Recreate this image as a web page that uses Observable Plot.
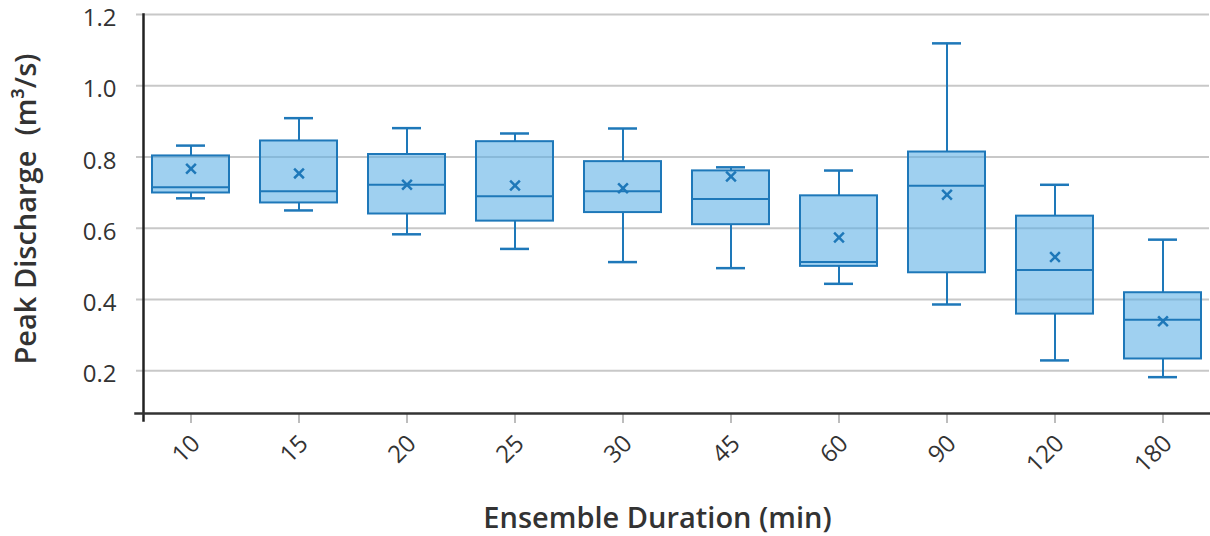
<!DOCTYPE html>
<html>
<head>
<meta charset="utf-8">
<script src="https://cdn.jsdelivr.net/npm/d3@7"></script>
<script src="https://cdn.jsdelivr.net/npm/@observablehq/plot@0.6"></script>
<style>
  html, body { margin: 0; padding: 0; background: #fff; }
  #chart svg { display: block; }
</style>
</head>
<body>
<div id="chart"></div>
<script>
const durations = ["10", "15", "20", "25", "30", "45", "60", "90", "120", "180"];
const minVals   = [0.684, 0.650, 0.583, 0.542, 0.505, 0.488, 0.444, 0.386, 0.229, 0.182];
const q1Vals    = [0.699, 0.671, 0.640, 0.620, 0.644, 0.610, 0.493, 0.475, 0.359, 0.233];
const medians   = [0.715, 0.704, 0.722, 0.690, 0.704, 0.682, 0.505, 0.719, 0.483, 0.343];
const q3Vals    = [0.803, 0.845, 0.807, 0.843, 0.787, 0.761, 0.691, 0.814, 0.634, 0.419];
const maxVals   = [0.832, 0.909, 0.881, 0.866, 0.880, 0.771, 0.762, 1.119, 0.722, 0.568];
const means     = [0.767, 0.754, 0.722, 0.720, 0.712, 0.745, 0.574, 0.694, 0.519, 0.339];
const yTicks    = [0.2, 0.4, 0.6, 0.8, 1.0, 1.2];
const yTitle = "Peak Discharge  (m³/s)";
const xTitle = "Ensemble Duration (min)";

const rows = durations.map((d, i) => ({
  d, min: minVals[i], q1: q1Vals[i], med: medians[i], q3: q3Vals[i], max: maxVals[i], mean: means[i]
}));

const blue = "#1e78b9";
const font = "'Open Sans', 'Noto Sans', sans-serif";

const chart = Plot.plot({
  width: 1210,
  height: 536,
  marginLeft: 143,
  marginRight: 1,
  marginTop: 14,
  marginBottom: 123,
  style: { fontFamily: font, background: "#fff", color: "#333" },
  x: { type: "band", domain: durations, paddingInner: 0.29, paddingOuter: 0.05 },
  y: { domain: [0.08, 1.2] },
  marks: [
    Plot.ruleY(yTicks, { stroke: "#c8c8c8", strokeWidth: 2, insetLeft: -7 }),
    Plot.axisY({ ticks: yTicks, tickSize: 0, tickPadding: 27, dy: 4, tickFormat: d3.format(".1f"), fontSize: 24, fill: "#333", label: null }),
    Plot.axisX({ tickSize: 10, stroke: "#bdbdbd", strokeWidth: 2, text: null, label: null }),
    Plot.axisX({ tickSize: 0, tickPadding: 26, dx: 5, tickRotate: -45, fontSize: 24, fill: "#333", label: null }),
    Plot.ruleX(rows, { x: "d", y1: "min", y2: "q1", stroke: blue, strokeWidth: 2 }),
    Plot.ruleX(rows, { x: "d", y1: "q3", y2: "max", stroke: blue, strokeWidth: 2 }),
    Plot.barY(rows, { x: "d", y1: "q1", y2: "q3", fill: "#5aaee6", fillOpacity: 0.58, stroke: blue, strokeWidth: 2 }),
    Plot.tickY(rows, { x: "d", y: "med", stroke: blue, strokeWidth: 2 }),
    Plot.tickY(rows, { x: "d", y: "min", stroke: blue, strokeWidth: 2.5, insetLeft: 24, insetRight: 24 }),
    Plot.tickY(rows, { x: "d", y: "max", stroke: blue, strokeWidth: 2.5, insetLeft: 24, insetRight: 24 }),
    Plot.dot(rows, { x: "d", y: "mean", symbol: "times", r: 4.5, stroke: blue, strokeWidth: 2.5 }),
    Plot.frame({ anchor: "left", stroke: "#222", strokeWidth: 2.5, insetBottom: -7 }),
    Plot.frame({ anchor: "bottom", stroke: "#333", strokeWidth: 2.5, insetLeft: -8 }),
    Plot.text([yTitle], { frameAnchor: "left", textAnchor: "middle", lineAnchor: "middle", dx: -117, dy: -5, rotate: -90, fontSize: 29, fontWeight: 600, fill: "#333" }),
    Plot.text([xTitle], { frameAnchor: "bottom", textAnchor: "middle", lineAnchor: "bottom", dx: -19, dy: 114, fontSize: 29, fontWeight: 600, fill: "#333" })
  ]
});
document.getElementById("chart").appendChild(chart);
</script>
</body>
</html>
